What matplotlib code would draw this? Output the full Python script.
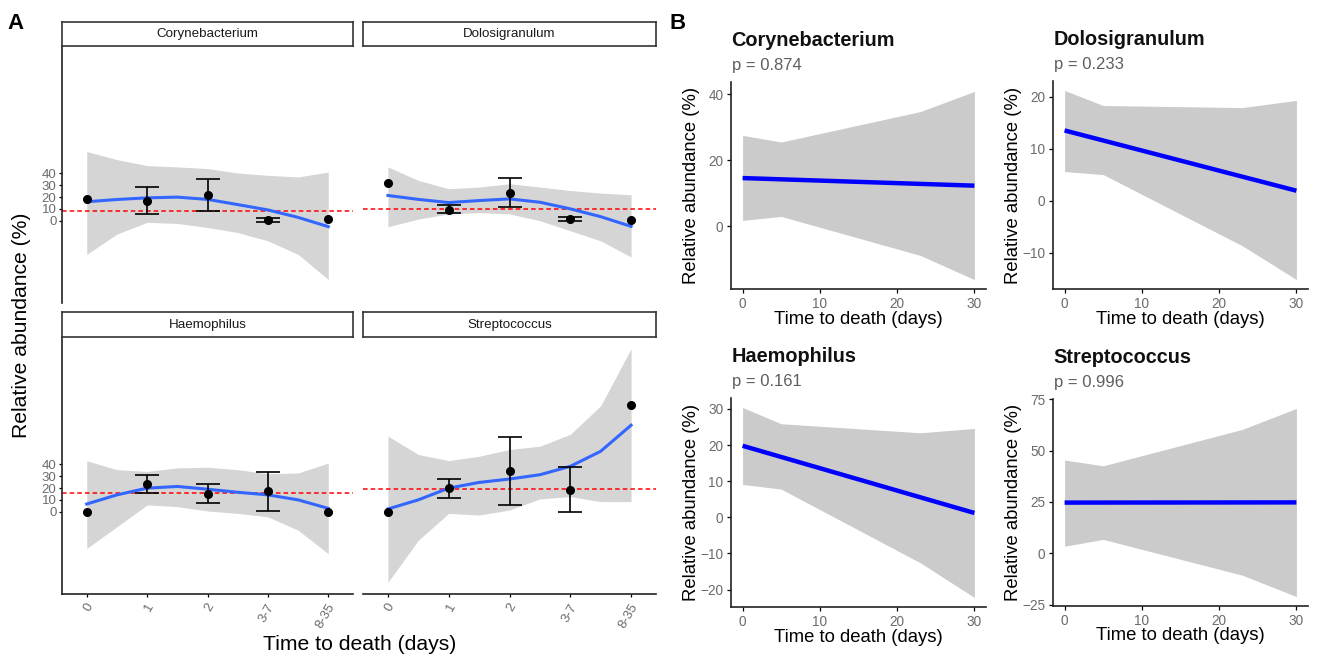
import numpy as np
import matplotlib.pyplot as plt
from matplotlib import transforms

plt.rcParams["font.family"] = ["Liberation Sans", "DejaVu Sans"]

# ---- data -------------------------------------------------------------
genera = ["Corynebacterium", "Dolosigranulum", "Haemophilus", "Streptococcus"]
categories = ["0", "1", "2", "3-7", "8-35"]
nan = np.nan

# panel A: group means with error bars, overall mean (red line) and loess fit
coryne_mean = [18.7, 17.0, 21.5, 0.6, 1.4]
coryne_lo = [nan, 5.4, 8.5, -1.1, nan]
coryne_hi = [nan, 28.7, 35.0, 2.3, nan]
dolo_mean = [31.5, 9.4, 23.8, 1.4, 0.9]
dolo_lo = [nan, 6.8, 11.6, -0.6, nan]
dolo_hi = [nan, 13.0, 36.0, 3.4, nan]
haemo_mean = [0.0, 23.3, 15.0, 17.6, 0.0]
haemo_lo = [nan, 15.9, 7.4, 0.9, nan]
haemo_hi = [nan, 30.6, 23.0, 33.8, nan]
strep_mean = [0.0, 19.9, 34.0, 18.2, 90.2]
strep_lo = [nan, 11.4, 5.7, 0.0, nan]
strep_hi = [nan, 27.6, 63.0, 37.5, nan]
overall_mean = [8.5, 10.2, 15.9, 19.0]

smooth_x = [0, 0.5, 1, 1.5, 2, 2.5, 3, 3.5, 4]
coryne_fit = [16.0, 17.9, 19.3, 19.9, 18.0, 13.6, 9.1, 2.8, -5.0]
coryne_up = [58.4, 51.6, 46.5, 45.4, 44.0, 40.3, 38.3, 36.9, 41.1]
coryne_dn = [-28.4, -11.3, -1.4, -2.3, -5.7, -10.0, -17.0, -28.4, -49.6]
dolo_fit = [21.3, 18.0, 15.3, 17.0, 18.4, 15.6, 10.0, 3.4, -4.8]
dolo_up = [45.4, 34.0, 27.0, 28.4, 31.2, 28.4, 25.5, 23.3, 21.9]
dolo_dn = [-5.1, 1.4, 5.7, 6.8, 5.7, 0.0, -8.5, -17.0, -30.6]
haemo_fit = [6.5, 14.2, 19.9, 21.3, 19.0, 16.4, 14.2, 10.0, 2.8]
haemo_up = [43.0, 35.5, 34.0, 37.0, 37.5, 35.5, 32.0, 32.7, 41.0]
haemo_dn = [-31.0, -12.7, 5.7, 4.3, 0.6, -1.4, -4.3, -15.6, -35.4]
strep_fit = [2.3, 10.0, 19.9, 24.7, 27.6, 31.2, 38.3, 51.0, 73.0]
strep_up = [63.8, 48.3, 43.1, 46.8, 52.5, 55.3, 65.3, 89.4, 137.6]
strep_dn = [-59.6, -24.1, -1.4, -2.8, 1.4, 10.8, 12.8, 8.5, 8.5]

# panel B: linear fit with confidence band
lm_x = [0, 30]
band_x = [0, 5, 23, 30]
coryne_lm = [14.6, 12.3]
coryne_band_up = [27.5, 25.5, 34.7, 40.8]
coryne_band_dn = [1.8, 3.0, -8.8, -16.1]
dolo_lm = [13.5, 1.9]
dolo_band_up = [21.2, 18.3, 17.9, 19.3]
dolo_band_dn = [5.6, 5.0, -8.7, -15.2]
haemo_lm = [19.8, 1.2]
haemo_band_up = [30.4, 25.9, 23.4, 24.6]
haemo_band_dn = [9.1, 7.8, -12.6, -22.2]
strep_lm = [24.7, 24.8]
strep_band_up = [45.4, 42.6, 60.3, 70.5]
strep_band_dn = [3.5, 6.8, -10.6, -21.0]
p_values = ["0.874", "0.233", "0.161", "0.996"]
b_yticks = [[0, 20, 40], [-10, 0, 10, 20], [-20, -10, 0, 10, 20, 30],
            [-25, 0, 25, 50, 75]]

# ---- figure -----------------------------------------------------------
W, H = 1317, 669
fig = plt.figure(figsize=(W / 100, H / 100), dpi=100)
fig.patch.set_facecolor("white")

GREY_TXT = "#6b6b6b"


def px_axes(x0, y0, x1, y1):
    return fig.add_axes([x0 / W, 1 - y1 / H, (x1 - x0) / W, (y1 - y0) / H])


def px_text(x, y, s, **kw):
    return fig.text(x / W, 1 - y / H, s, **kw)


# ---- panel A ------------------------------------------------------------
a_means = [coryne_mean, dolo_mean, haemo_mean, strep_mean]
a_lo = [coryne_lo, dolo_lo, haemo_lo, strep_lo]
a_hi = [coryne_hi, dolo_hi, haemo_hi, strep_hi]
a_fit = [coryne_fit, dolo_fit, haemo_fit, strep_fit]
a_up = [coryne_up, dolo_up, haemo_up, strep_up]
a_dn = [coryne_dn, dolo_dn, haemo_dn, strep_dn]

all_band = np.concatenate([np.array(v) for v in a_up + a_dn])
span = all_band.max() - all_band.min()
a_ylim = (all_band.min() - 0.05 * span, all_band.max() + 0.05 * span)

a_boxes = [(62, 46, 353, 303), (363, 46, 656, 303),
           (62, 337, 353, 594), (363, 337, 656, 594)]
xpos = np.arange(len(categories))

for i, genus in enumerate(genera):
    x0, y0, x1, y1 = a_boxes[i]
    ax = px_axes(x0, y0, x1, y1)
    ax.fill_between(smooth_x, a_dn[i], a_up[i], color="#d5d5d5", lw=0, zorder=1)
    ax.axhline(overall_mean[i], color="red", ls=(0, (3, 2)), lw=1.1, zorder=2)
    ax.plot(smooth_x, a_fit[i], color="#3366FF", lw=2.2, zorder=3)

    mean = np.array(a_means[i])
    lo = np.array(a_lo[i])
    hi = np.array(a_hi[i])
    ok = ~np.isnan(lo)
    ax.errorbar(xpos[ok], mean[ok], yerr=[mean[ok] - lo[ok], hi[ok] - mean[ok]],
                fmt="none", ecolor="black", elinewidth=1.2, capsize=8.6,
                capthick=1.2, zorder=4)
    ax.plot(xpos, mean, "o", color="black", ms=5.5, zorder=5)

    ax.set_xlim(-0.41, 4.41)
    ax.set_ylim(*a_ylim)
    ax.set_facecolor("none")
    for s in ax.spines.values():
        s.set_visible(False)
        s.set_color("#222222")
        s.set_linewidth(1.2)

    left_col = i % 2 == 0
    bottom_row = i >= 2
    ax.set_yticks([0, 10, 20, 30, 40])
    ax.set_xticks(xpos)
    if left_col:
        ax.spines["left"].set_visible(True)
        ax.tick_params(axis="y", length=2.5, width=0.9, labelsize=9.5,
                       labelcolor=GREY_TXT, pad=1.5)
    else:
        ax.tick_params(axis="y", left=False, labelleft=False)
    if bottom_row:
        ax.spines["bottom"].set_visible(True)
        ax.tick_params(axis="x", length=2.5, width=0.9, labelsize=9.5,
                       labelcolor=GREY_TXT, pad=5)
        ax.set_xticklabels(categories, rotation=60, ha="right", va="center",
                           rotation_mode="anchor")
        shift = transforms.ScaledTranslation(4 / 100, 0, fig.dpi_scale_trans)
        for lab in ax.get_xticklabels():
            lab.set_transform(lab.get_transform() + shift)
    else:
        ax.tick_params(axis="x", bottom=False, labelbottom=False)

    # facet strip
    sax = px_axes(x0, y0 - 24.5, x1, y0)
    sax.set_xticks([])
    sax.set_yticks([])
    sax.set_facecolor("white")
    for s in sax.spines.values():
        s.set_color("#333333")
        s.set_linewidth(1.2)
    sax.text(0.5, 0.5, genus, ha="center", va="center", fontsize=9.6,
             color="#1a1a1a", transform=sax.transAxes)

px_text(22, 325, "Relative abundance (%)", rotation=90, ha="center",
        va="center", fontsize=15.2)
px_text(360, 644, "Time to death (days)", ha="center", va="center",
        fontsize=15.2)
px_text(16, 29, "A", ha="center", va="baseline", fontsize=16,
        fontweight="bold")

# ---- panel B ------------------------------------------------------------
b_lm = [coryne_lm, dolo_lm, haemo_lm, strep_lm]
b_up = [coryne_band_up, dolo_band_up, haemo_band_up, strep_band_up]
b_dn = [coryne_band_dn, dolo_band_dn, haemo_band_dn, strep_band_dn]
b_boxes = [(731, 82, 986, 289), (1053, 81, 1308, 289),
           (731, 398, 986, 607), (1053, 399, 1308, 606)]

for i, genus in enumerate(genera):
    x0, y0, x1, y1 = b_boxes[i]
    ax = px_axes(x0, y0, x1, y1)
    ax.fill_between(band_x, b_dn[i], b_up[i], color="#cbcbcb", lw=0, zorder=1)
    ax.plot(lm_x, b_lm[i], color="#0000FF", lw=3.2, solid_capstyle="butt",
            zorder=2)

    vals = np.array(b_up[i] + b_dn[i] + b_lm[i])
    rng = vals.max() - vals.min()
    ax.set_ylim(vals.min() - 0.05 * rng, vals.max() + 0.05 * rng)
    ax.set_xlim(-1.5, 31.5)
    ax.set_xticks([0, 10, 20, 30])
    ax.set_yticks(b_yticks[i])
    ax.set_facecolor("none")
    for side in ["top", "right"]:
        ax.spines[side].set_visible(False)
    for side in ["left", "bottom"]:
        ax.spines[side].set_color("#222222")
        ax.spines[side].set_linewidth(1.2)
    ax.tick_params(length=3, width=0.9, labelsize=9.8, labelcolor=GREY_TXT,
                   pad=2.5)

    px_text(x0 + 0.5, y0 - 36, genus, ha="left", va="baseline",
            fontsize=14.3, fontweight="bold", color="#111111")
    px_text(x0 + 0.5, y0 - 12, "p = " + p_values[i], ha="left", va="baseline",
            fontsize=12, color="#5e5e5e")
    px_text(x0 - 39, (y0 + y1) / 2, "Relative abundance (%)", rotation=90,
            ha="center", va="center", fontsize=13.3)
    px_text((x0 + x1) / 2, y1 + 30, "Time to death (days)", ha="center",
            va="center", fontsize=13.3)

px_text(678, 29, "B", ha="center", va="baseline", fontsize=16,
        fontweight="bold")

fig.savefig("out.png", dpi=100, facecolor="white")
